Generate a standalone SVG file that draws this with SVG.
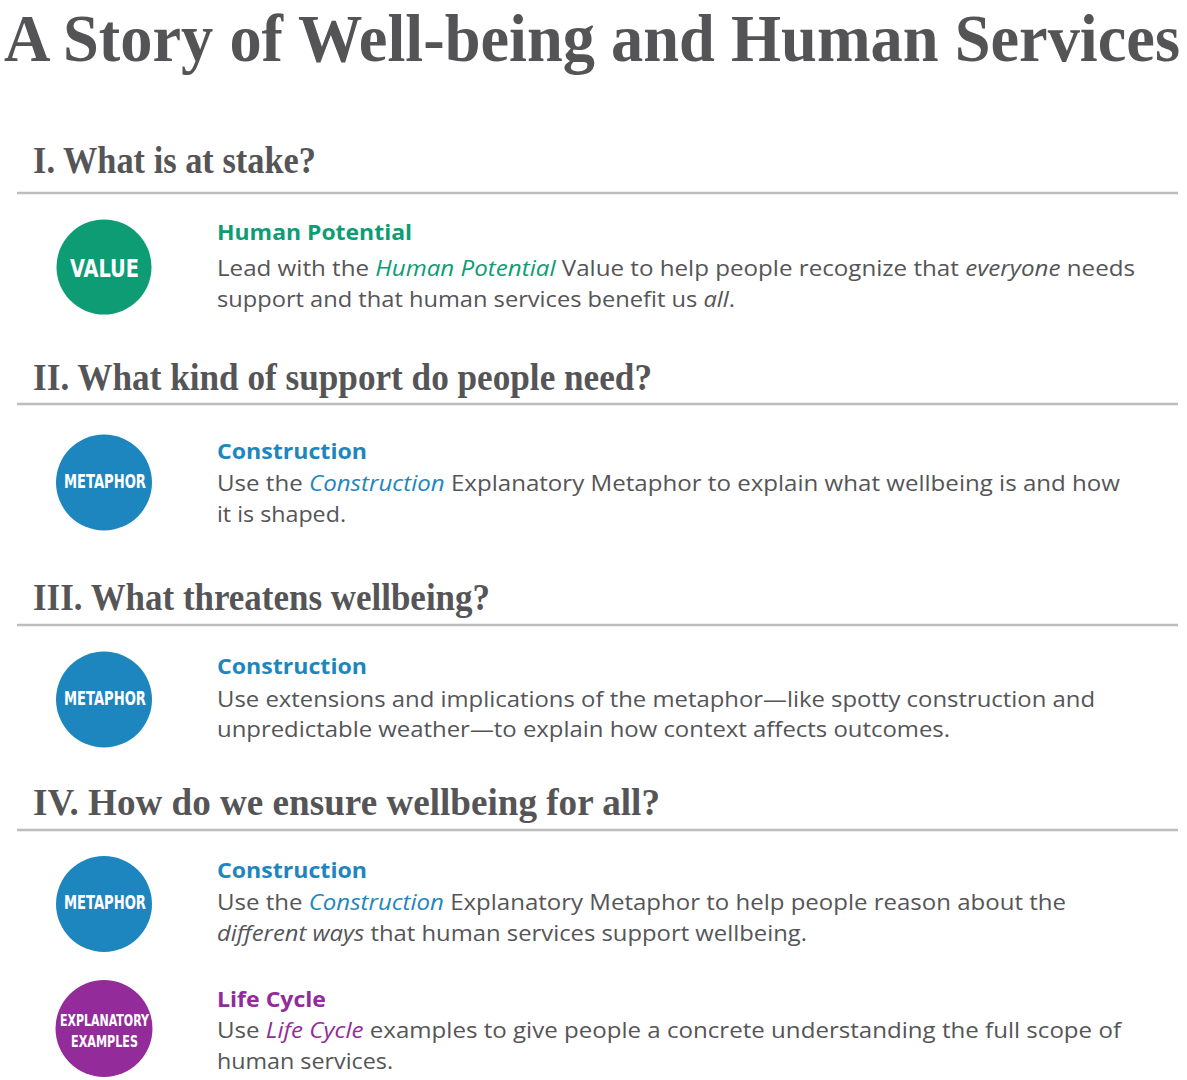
<svg xmlns="http://www.w3.org/2000/svg" width="1187" height="1080" viewBox="0 0 1187 1080">
<style>
.title{font-family:"Liberation Serif","DejaVu Serif",serif;font-weight:bold;font-size:63.5px;fill:#545456}
.sec{font-family:"Liberation Serif","DejaVu Serif",serif;font-weight:bold;font-size:37px;fill:#555557}
.rule{stroke:#bdbdbd;stroke-width:2.5}
.hd{font-family:"Open Sans","Noto Sans","Liberation Sans",sans-serif;font-weight:bold;font-size:22px}
.body{font-family:"Open Sans","Noto Sans","Liberation Sans",sans-serif;font-size:22.5px;fill:#555558}
.badge{font-family:"Liberation Sans Narrow","DejaVu Sans Condensed","Liberation Sans",sans-serif;font-weight:bold;fill:#fff;text-anchor:middle}
.g{fill:#0d9c74}.b{fill:#1e86bf}.p{fill:#932c9a}
.i{font-style:italic}
</style>
<text class="title" x="4" y="57.5" transform="scale(1,1.06)" textLength="1176" lengthAdjust="spacingAndGlyphs">A Story of Well-being and Human Services</text>

<g id="section1">
<text class="sec" x="33" y="173" textLength="283" lengthAdjust="spacingAndGlyphs">I. What is at stake?</text>
<line class="rule" x1="17" y1="193" x2="1178" y2="193"/>
</g>
<g id="node-value">
<circle class="g" cx="104" cy="267" r="47.5"/>
<text class="badge" x="104.5" y="277" font-size="24" textLength="69" lengthAdjust="spacingAndGlyphs">VALUE</text>
<text class="hd g" x="217" y="240" textLength="195" lengthAdjust="spacingAndGlyphs">Human Potential</text>
<text class="body" x="217" y="276" textLength="918" lengthAdjust="spacingAndGlyphs">Lead with the <tspan class="i g">Human Potential</tspan> Value to help people recognize that <tspan class="i">everyone</tspan> needs</text>
<text class="body" x="217" y="307" textLength="518" lengthAdjust="spacingAndGlyphs">support and that human services benefit us <tspan class="i">all</tspan>.</text>
</g>

<g id="section2">
<text class="sec" x="33" y="390" textLength="619" lengthAdjust="spacingAndGlyphs">II. What kind of support do people need?</text>
<line class="rule" x1="17" y1="404" x2="1178" y2="404"/>
</g>
<g id="node-metaphor-1">
<circle class="b" cx="104" cy="482.5" r="48"/>
<text class="badge" x="105" y="488" font-size="19" textLength="82" lengthAdjust="spacingAndGlyphs">METAPHOR</text>
<text class="hd b" x="217" y="459" textLength="150" lengthAdjust="spacingAndGlyphs">Construction</text>
<text class="body" x="217" y="491" textLength="903" lengthAdjust="spacingAndGlyphs">Use the <tspan class="i b">Construction</tspan> Explanatory Metaphor to explain what wellbeing is and how</text>
<text class="body" x="217" y="522" textLength="129" lengthAdjust="spacingAndGlyphs">it is shaped.</text>
</g>

<g id="section3">
<text class="sec" x="33" y="610" textLength="457" lengthAdjust="spacingAndGlyphs">III. What threatens wellbeing?</text>
<line class="rule" x1="17" y1="625" x2="1178" y2="625"/>
</g>
<g id="node-metaphor-2">
<circle class="b" cx="104" cy="699.5" r="48"/>
<text class="badge" x="105" y="705" font-size="19" textLength="82" lengthAdjust="spacingAndGlyphs">METAPHOR</text>
<text class="hd b" x="217" y="674" textLength="150" lengthAdjust="spacingAndGlyphs">Construction</text>
<text class="body" x="217" y="707" textLength="878" lengthAdjust="spacingAndGlyphs">Use extensions and implications of the metaphor—like spotty construction and</text>
<text class="body" x="217" y="737" textLength="733" lengthAdjust="spacingAndGlyphs">unpredictable weather—to explain how context affects outcomes.</text>
</g>

<g id="section4">
<text class="sec" x="33" y="815" textLength="627" lengthAdjust="spacingAndGlyphs">IV. How do we ensure wellbeing for all?</text>
<line class="rule" x1="17" y1="830" x2="1178" y2="830"/>
</g>
<g id="node-metaphor-3">
<circle class="b" cx="104" cy="904" r="48"/>
<text class="badge" x="105" y="909" font-size="19" textLength="82" lengthAdjust="spacingAndGlyphs">METAPHOR</text>
<text class="hd b" x="217" y="878" textLength="150" lengthAdjust="spacingAndGlyphs">Construction</text>
<text class="body" x="217" y="910" textLength="849" lengthAdjust="spacingAndGlyphs">Use the <tspan class="i b">Construction</tspan> Explanatory Metaphor to help people reason about the</text>
<text class="body" x="217" y="941" textLength="590" lengthAdjust="spacingAndGlyphs"><tspan class="i">different ways</tspan> that human services support wellbeing.</text>
</g>
<g id="node-examples">
<circle class="p" cx="104" cy="1028.5" r="48.5"/>
<text class="badge" x="104.5" y="1026" font-size="15.5" textLength="89" lengthAdjust="spacingAndGlyphs">EXPLANATORY</text>
<text class="badge" x="104.5" y="1047" font-size="15.5" textLength="67" lengthAdjust="spacingAndGlyphs">EXAMPLES</text>
<text class="hd p" x="217" y="1007" textLength="109" lengthAdjust="spacingAndGlyphs">Life Cycle</text>
<text class="body" x="217" y="1038" textLength="904" lengthAdjust="spacingAndGlyphs">Use <tspan class="i p">Life Cycle</tspan> examples to give people a concrete understanding the full scope of</text>
<text class="body" x="217" y="1069" textLength="176" lengthAdjust="spacingAndGlyphs">human services.</text>
</g>
<g id="connectors"/>
</svg>
